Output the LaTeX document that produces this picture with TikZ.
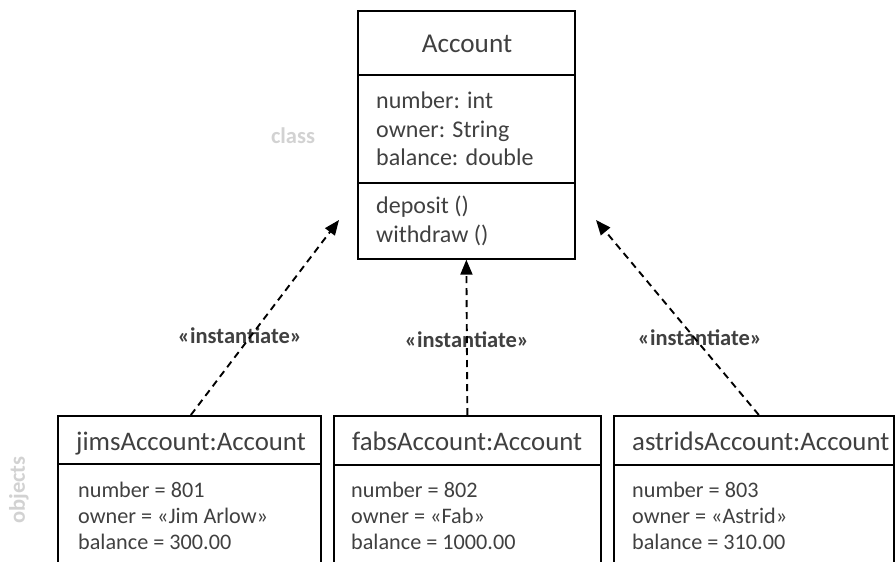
\documentclass[tikz,border=0pt]{standalone}
\usepackage{fontspec}
\setmainfont{Carlito}
\usetikzlibrary{arrows.meta}
\definecolor{ink}{HTML}{404040}
\definecolor{faint}{HTML}{D2D2D2}
\begin{document}
\begin{tikzpicture}[x=1pt,y=-1pt,
  box/.style={draw=black, line width=1.7pt, inner sep=0pt, anchor=north west},
  line/.style={text=ink, inner sep=0pt, anchor=base west},
  headtxt/.style={text=ink, inner sep=0pt, anchor=base west, font=\fontsize{26.8}{31}\selectfont},
  acctxt/.style={line, font=\fontsize{24}{28}\selectfont},
  objtxt/.style={line, font=\fontsize{22.2}{26}\selectfont},
  lbl/.style={text=ink, inner sep=0pt, anchor=base, font=\bfseries\fontsize{22.5}{26}\selectfont},
  side/.style={text=faint, inner sep=0pt, font=\bfseries\fontsize{22.5}{26}\selectfont},
  conn/.style={draw=black, line width=1.9pt, dash pattern=on 7pt off 5pt,
    -{Triangle[length=15pt,width=12pt]}}]
\useasboundingbox (0,0) rectangle (895,562);
\clip (0,0) rectangle (895,562);

% class Account with its three compartments
\node[box, minimum width=217pt, minimum height=64pt] (acctitle) at (357,10) {};
\node[box, minimum width=217pt, minimum height=108pt] (accattr) at (357,74) {};
\node[box, minimum width=217pt, minimum height=76pt] (accops) at (357,182) {};
\node[text=ink, inner sep=0pt, anchor=base, font=\fontsize{27.2}{31}\selectfont] (accname) at (467,52) {Account};
\node[acctxt] (a1) at (376,108) {number: int};
\node[acctxt] (a2) at (376,137) {owner: String};
\node[acctxt] (a3) at (376,165.5) {balance: double};
\node[acctxt] (m1) at (376,213) {deposit ()};
\node[acctxt] (m2) at (376,242) {withdraw ()};

% object jimsAccount
\node[box, minimum width=263pt, minimum height=48pt] (jimt) at (57,415) {};
\node[box, minimum width=263pt, minimum height=140pt] (jimb) at (57,463) {};
\node[headtxt] (jimn) at (76,450) {jimsAccount:Account};
\node[objtxt] (j1) at (78,497) {number = 801};
\node[objtxt] (j2) at (78,523) {owner = «Jim Arlow»};
\node[objtxt] (j3) at (78,549) {balance = 300.00};

% object fabsAccount
\node[box, minimum width=267pt, minimum height=49pt] (fabt) at (333,415) {};
\node[box, minimum width=267pt, minimum height=140pt] (fabb) at (333,464) {};
\node[headtxt] (fabn) at (352,450) {fabsAccount:Account};
\node[objtxt] (f1) at (351,497) {number = 802};
\node[objtxt] (f2) at (351,523) {owner = «Fab»};
\node[objtxt] (f3) at (351,549) {balance = 1000.00};

% object astridsAccount
\node[box, minimum width=280pt, minimum height=49pt] (astt) at (613,415) {};
\node[box, minimum width=280pt, minimum height=140pt] (astb) at (613,464) {};
\node[headtxt] (astn) at (632,450) {astridsAccount:Account};
\node[objtxt] (s1) at (632,497) {number = 803};
\node[objtxt] (s2) at (632,523) {owner = «Astrid»};
\node[objtxt] (s3) at (632,549) {balance = 310.00};

% side captions
\node[side, anchor=base] (cls) at (293,143) {class};
\node[side, rotate=90] (objs) at (19,490) {objects};

% instantiation dependencies
\node[lbl] (i1) at (240,343) {«instantiate»};
\node[lbl] (i2) at (467,347) {«instantiate»};
\node[lbl] (i3) at (700,345) {«instantiate»};
\coordinate (tipL) at (339,220);
\coordinate (tipR) at (596,220);
\draw[conn] ([xshift=1.5pt]jimt.north) -- (tipL);
\draw[conn] (fabt.north) -- (accops.south);
\draw[conn] ([xshift=5pt]astt.north) -- (tipR);
\end{tikzpicture}
\end{document}
